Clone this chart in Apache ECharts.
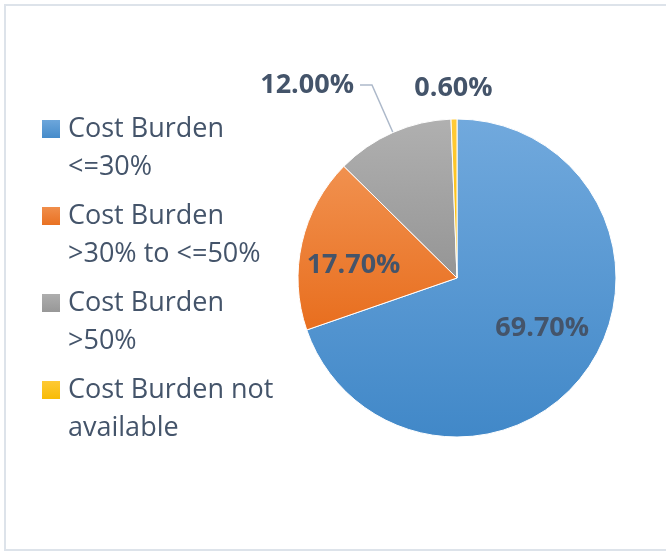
<!DOCTYPE html>
<html>
<head>
<meta charset="utf-8">
<script src="https://cdn.jsdelivr.net/npm/echarts@6/dist/echarts.min.js"></script>
<style>
  html, body { margin: 0; padding: 0; background: #fff; }
  #chartPie { width: 666px; height: 552px; }
</style>
</head>
<body>
<div id="chartPie"></div>
<script>
/* data */
var categories = [
    'Cost Burden <=30%',
    'Cost Burden >30% to <=50%',
    'Cost Burden >50%',
    'Cost Burden not available'
];
var shares = [69.7, 17.7, 12.0, 0.6];

/* colours: top / bottom of each slice */
var sliceColors = [
    ['#71A9DD', '#4188C8'],
    ['#F1914F', '#E86E1E'],
    ['#B0B0B0', '#959595'],
    ['#FFCB3A', '#F7BA00']
];

/* small nudges for the labels (dx, dy) */
var labelShift = [[18, 2], [-23, 6], [0, 0], [0, 0]];

function grad(c) {
    return new echarts.graphic.LinearGradient(0, 0, 0, 1, [
        {offset: 0, color: c[0]},
        {offset: 1, color: c[1]}
    ]);
}

var labelOpts = [
    {position: 'inside'},
    {position: 'inside'},
    {position: 'outside', padding: [0, 0, 22, 0], distanceToLabelLine: 6},
    {position: 'outside', distanceToLabelLine: 0}
];
var lineOpts = [
    {show: false},
    {show: false},
    {show: true, length: 52, length2: 12, lineStyle: {color: '#ADB9CA', width: 1.5}},
    {show: false, length: 31, length2: 0}
];

var pieData = shares.map(function (v, i) {
    return {
        name: categories[i],
        value: v,
        itemStyle: {color: grad(sliceColors[i])},
        label: labelOpts[i],
        labelLine: lineOpts[i]
    };
});

var option = {
    backgroundColor: '#fff',
    animation: false,
    graphic: [{
        type: 'rect',
        z: -1,
        shape: {x: 5, y: 5, width: 700, height: 545},
        style: {fill: 'none', stroke: '#DDE3EA', lineWidth: 2}
    }],
    legend: {
        orient: 'vertical',
        left: 40,
        top: 72,
        padding: 0,
        itemGap: -27,
        itemWidth: 20,
        itemHeight: 20,
        icon: 'rect',
        selectedMode: false,
        data: categories,
        formatter: function (name) {
            return '\n' + name;
        },
        textStyle: {
            fontFamily: 'Open Sans',
            fontSize: 27,
            color: '#44546A',
            lineHeight: 38,
            width: 225,
            overflow: 'break',
            padding: [0, 0, 0, 2]
        }
    },
    series: [{
        type: 'pie',
        center: [457, 278],
        radius: 159,
        startAngle: 90,
        clockwise: true,
        avoidLabelOverlap: false,
        emphasis: {disabled: true},
        itemStyle: {borderColor: '#fff', borderWidth: 1},
        label: {
            show: true,
            formatter: function (p) {
                return p.value.toFixed(2) + '%';
            },
            fontFamily: 'Open Sans',
            fontSize: 27,
            fontWeight: 'bold',
            color: '#44546A'
        },
        labelLayout: function (params) {
            var i = params.dataIndex;
            var s = labelShift[i];
            var o = {};
            if (s[0]) o.dx = s[0];
            if (s[1]) o.dy = s[1];
            if (i === 3) o.align = 'center';
            return o;
        },
        data: pieData
    }]
};

var chartPie = echarts.init(document.getElementById('chartPie'));
chartPie.setOption(option);
</script>
</body>
</html>
